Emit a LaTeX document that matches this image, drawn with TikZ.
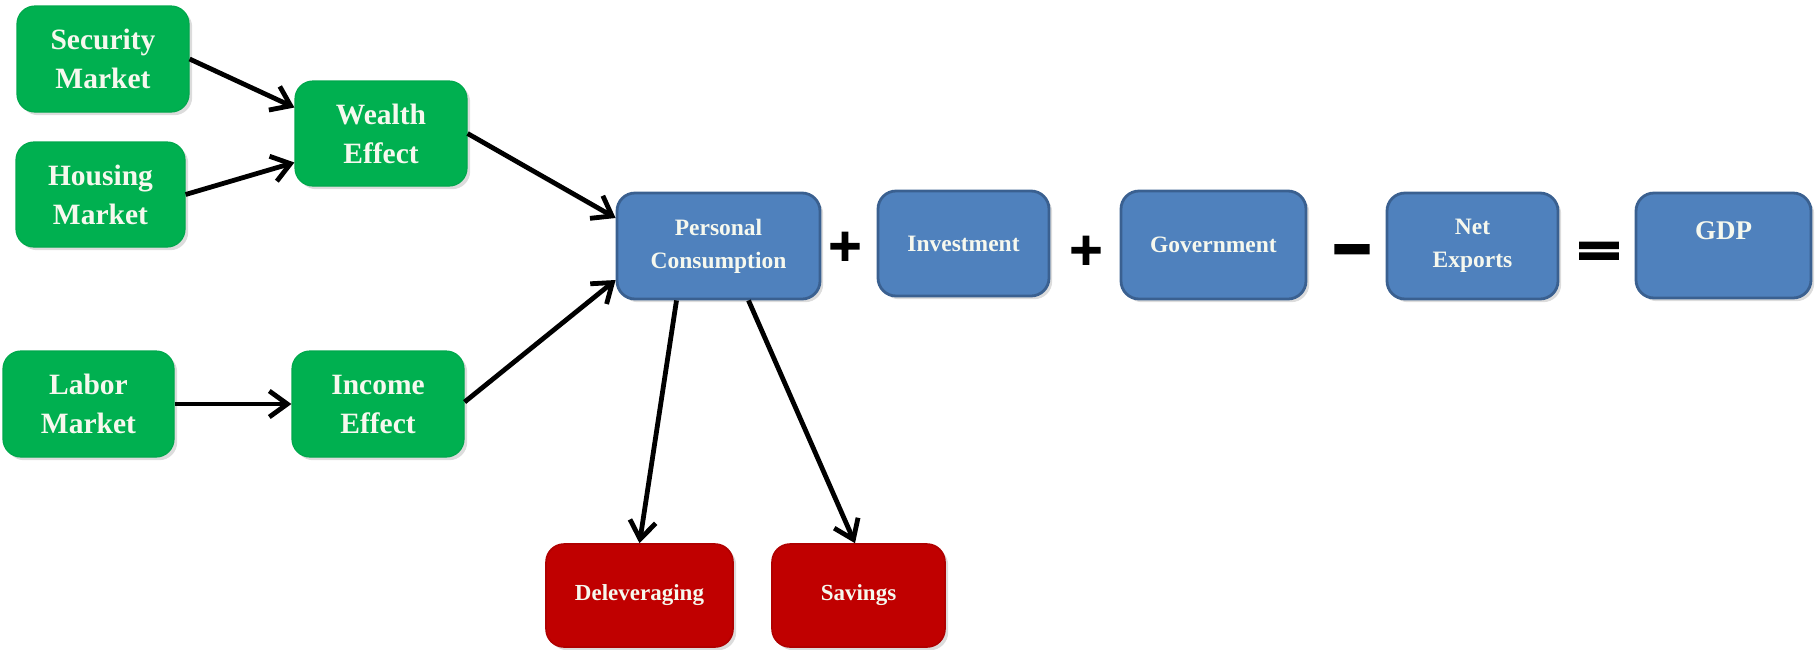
\documentclass[tikz,border=0pt]{standalone}
\usepackage{fontspec}
\setmainfont{Liberation Serif}
\newfontfamily\signfont[FakeBold=4]{DejaVu Sans Bold}
\usetikzlibrary{arrows.meta,shadows}
\definecolor{gfill}{HTML}{00B050}
\definecolor{gline}{HTML}{00A84C}
\definecolor{bfill}{HTML}{4F81BD}
\definecolor{bline}{HTML}{3A6090}
\definecolor{rfill}{HTML}{C00000}
\definecolor{rline}{HTML}{B00000}
\definecolor{txtc}{HTML}{F6F8EE}
\begin{document}
\begin{tikzpicture}[x=0.5pt,y=-0.5pt,
  box/.style={rounded corners=9pt, align=center, text=txtc, inner sep=0pt,
    drop shadow={shadow xshift=1.6pt,shadow yshift=-1.6pt,opacity=0.28}},
  gbox/.style={box, fill=gfill, draw=gline, line width=0.6pt,
    font=\fontsize{14.75}{19.5}\selectfont\bfseries},
  bbox/.style={box, fill=bfill, draw=bline, line width=1.4pt,
    font=\fontsize{11.75}{16.5}\selectfont\bfseries},
  rbox/.style={box, fill=rfill, draw=rline, line width=0.8pt,
    font=\fontsize{11.5}{14}\selectfont\bfseries},
  sign/.style={inner sep=0pt, anchor=base, font=\signfont\fontsize{22}{22}\selectfont},
  arr/.style={line width=2.4pt, -{Straight Barb[length=9pt,width=13pt]}}
]
\useasboundingbox (0,0) rectangle (1816,649);

% green boxes
\node[gbox, minimum width=86pt, minimum height=53pt] (sec) at (103,59) {Security\\Market};
\node[gbox, minimum width=84.5pt, minimum height=52.5pt] (hou) at (100.5,194.5) {Housing\\Market};
\node[gbox, minimum width=86pt, minimum height=52.5pt] (wea) at (381,133.5) {Wealth\\Effect};
\node[gbox, minimum width=85.5pt, minimum height=53pt] (lab) at (88.5,404) {Labor\\Market};
\node[gbox, minimum width=86pt, minimum height=53pt] (inc) at (378,404) {Income\\Effect};

% blue boxes
\node[bbox, minimum width=101.5pt, minimum height=53pt] (pc) at (718.5,246) {Personal\\Consumption};
\node[bbox, minimum width=85.5pt, minimum height=52.5pt] (inv) at (963.5,243.5) {Investment};
\node[bbox, minimum width=92.5pt, minimum height=54pt] (gov) at (1213.5,245) {Government};
\node[bbox, minimum width=85.5pt, minimum height=53pt] (net) at (1472.5,246) {Net\\Exports};
\node[bbox, minimum width=87.5pt, minimum height=52.5pt, font=\fontsize{13.5}{16}\selectfont\bfseries,
      text height=9pt, text depth=15pt] (gdp) at (1723.5,245.5) {GDP};

% red boxes
\node[rbox, minimum width=93.5pt, minimum height=51.5pt] (del) at (639.5,595.5) {Deleveraging};
\node[rbox, minimum width=86.5pt, minimum height=51.5pt] (sav) at (858.5,595.5) {Savings};

% signs
\node[sign] (plus1) at (845,260) {+};
\node[sign] (plus2) at (1086,264) {+};
\node[sign] (minus) at (1352,270) {\scalebox{1.2}[1.5]{−}};
\node[sign] (equal) at (1599,266) {\scalebox{1.35}[1.1]{=}};

% arrows
\draw[arr] (sec.east) -- ([yshift=13pt]wea.west);
\draw[arr] (hou.east) -- ([yshift=-14.5pt]wea.west);
\draw[arr] (lab.east) -- (inc.west);
\draw[arr] (wea.east) -- ([yshift=14pt]pc.west);
\draw[arr] ([yshift=1pt]inc.east) -- ([yshift=-17pt]pc.west);
\draw[arr] ([xshift=-21pt]pc.south) -- (del.north);
\draw[arr] ([xshift=15pt]pc.south) -- ([xshift=-1.75pt]sav.north);
\end{tikzpicture}
\end{document}
